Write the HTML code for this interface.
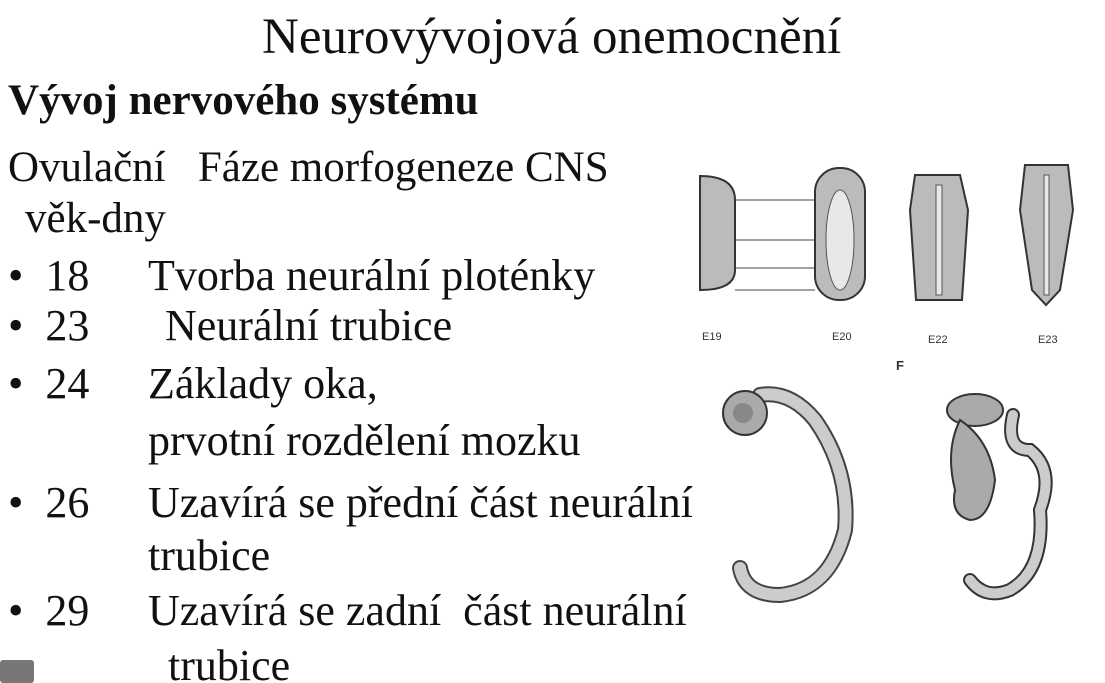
<!DOCTYPE html>
<html><head><meta charset="utf-8"><style>
html,body{margin:0;padding:0;background:#fff;width:1105px;height:683px;overflow:hidden;position:relative;font-family:"Liberation Serif",serif;color:#111}
.t{position:absolute;white-space:nowrap;font-size:44px;line-height:1}
</style></head><body>
<div class="t" style="left:262px;top:12px;font-size:51px">Neurovývojová onemocnění</div>
<div class="t" style="left:8px;top:79px;font-weight:bold;font-size:43px">Vývoj nervového systému</div>
<div class="t" style="left:8px;top:146px;font-size:43px">Ovulační&nbsp;&nbsp; Fáze morfogeneze CNS</div>
<div class="t" style="left:25px;top:197px;font-size:43px">věk-dny</div>
<div class="t" style="left:8px;top:254px">•&nbsp; 18</div><div class="t" style="left:148px;top:254px">Tvorba neurální ploténky</div>
<div class="t" style="left:8px;top:304px">•&nbsp; 23</div><div class="t" style="left:165px;top:304px">Neurální trubice</div>
<div class="t" style="left:8px;top:362px">•&nbsp; 24</div><div class="t" style="left:148px;top:362px">Základy oka,</div>
<div class="t" style="left:148px;top:419px">prvotní rozdělení mozku</div>
<div class="t" style="left:8px;top:481px">•&nbsp; 26</div><div class="t" style="left:148px;top:481px">Uzavírá se přední část neurální</div>
<div class="t" style="left:148px;top:534px">trubice</div>
<div class="t" style="left:8px;top:589px">•&nbsp; 29</div><div class="t" style="left:148px;top:589px">Uzavírá se zadní&nbsp; část neurální</div>
<div class="t" style="left:168px;top:644px">trubice</div>
<div style="position:absolute;left:0;top:660px;width:34px;height:23px;background:#777;border-radius:3px"></div>
<svg style="position:absolute;left:0;top:0" width="1105" height="683">
<g fill="#bbb" stroke="#333" stroke-width="2">
<path d="M700 176 Q735 176 735 200 L735 270 Q735 290 700 290 Z"/>
<rect x="815" y="168" width="50" height="132" rx="24"/>
<path d="M915 175 L960 175 L968 210 L962 300 L916 300 L910 210 Z"/>
<path d="M1025 165 L1068 165 L1073 210 L1060 290 L1046 305 L1032 290 L1020 210 Z"/>
</g>
<g fill="#e8e8e8" stroke="#555" stroke-width="1">
<ellipse cx="840" cy="240" rx="14" ry="50"/>
<rect x="936" y="185" width="6" height="110"/>
<rect x="1044" y="175" width="5" height="120"/>
</g>
<g stroke="#444" stroke-width="1"><line x1="735" y1="200" x2="815" y2="200"/><line x1="735" y1="240" x2="815" y2="240"/><line x1="735" y1="268" x2="815" y2="268"/><line x1="735" y1="290" x2="815" y2="290"/></g>
<g font-family="Liberation Sans,sans-serif" font-size="11" fill="#333"><text x="702" y="340">E19</text><text x="832" y="340">E20</text><text x="928" y="343">E22</text><text x="1038" y="343">E23</text><text x="896" y="370" font-weight="bold" font-size="13">F</text></g>
<g fill="none" stroke="#444" stroke-width="16" stroke-linecap="round"><path d="M760 395 Q790 390 815 420 Q850 470 845 530 Q830 590 780 595 Q745 595 740 568"/></g>
<g fill="none" stroke="#ccc" stroke-width="12" stroke-linecap="round"><path d="M760 395 Q790 390 815 420 Q850 470 845 530 Q830 590 780 595 Q745 595 740 568"/></g>
<circle cx="745" cy="413" r="22" fill="#aaa" stroke="#333" stroke-width="2"/>
<circle cx="743" cy="413" r="10" fill="#888"/>
<g fill="#aaa" stroke="#333" stroke-width="2">
<ellipse cx="975" cy="410" rx="28" ry="16"/>
<path d="M960 420 Q990 440 995 480 Q990 520 970 520 Q950 515 955 490 Q945 450 960 420Z"/>
</g>
<g fill="none" stroke="#333" stroke-width="14" stroke-linecap="round"><path d="M1013 415 Q1005 450 1030 450 Q1055 470 1040 510 Q1045 570 1010 590 Q985 600 970 580"/></g>
<g fill="none" stroke="#ccc" stroke-width="10" stroke-linecap="round"><path d="M1013 415 Q1005 450 1030 450 Q1055 470 1040 510 Q1045 570 1010 590 Q985 600 970 580"/></g>
</svg>
</body></html>
